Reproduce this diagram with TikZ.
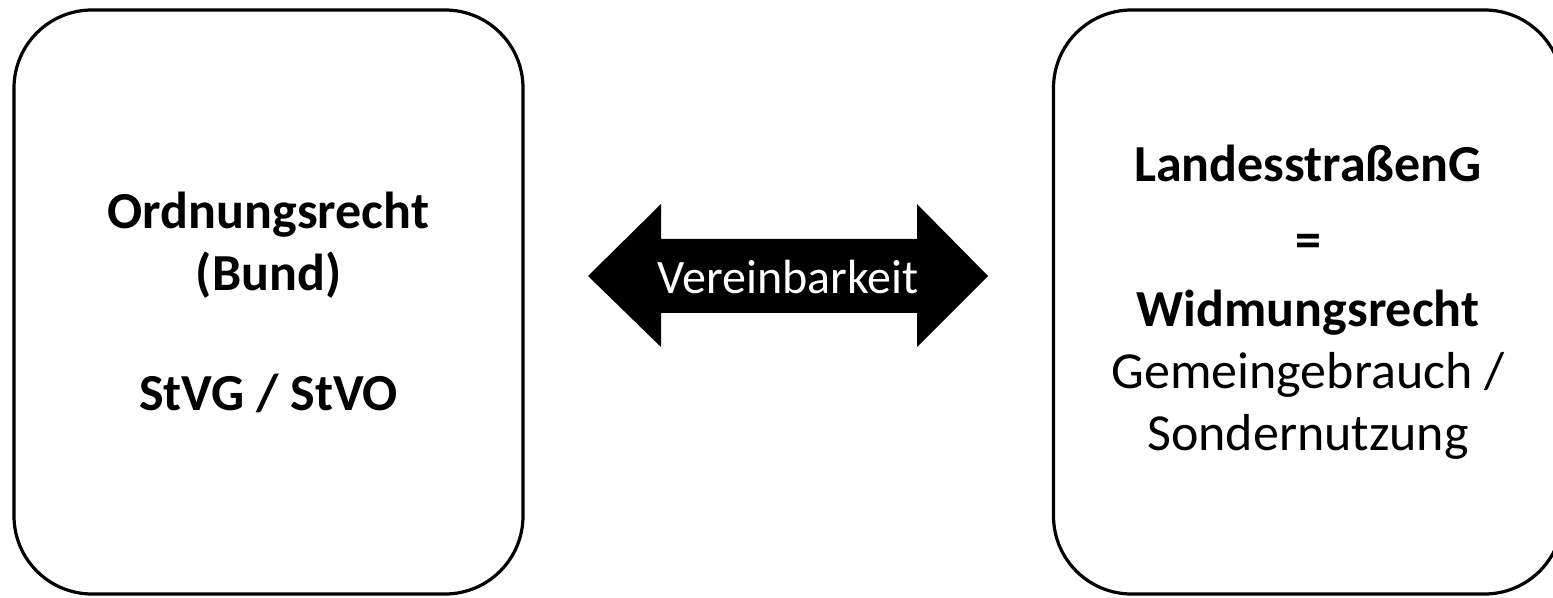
\documentclass[tikz,border=0pt]{standalone}
\usepackage{fontspec}
\setmainfont{Carlito}
\begin{document}
\begin{tikzpicture}[x=0.5pt,y=-0.5pt,
  box/.style={draw=black, line width=1.6pt, rounded corners=39pt,
    minimum width=254.5pt, minimum height=292pt, inner sep=0pt,
    align=center, font=\fontsize{26}{31}\selectfont},
  arrowfill/.style={fill=black},
  arrowtext/.style={text=white, inner sep=0pt, font=\fontsize{24}{29}\selectfont}]
\useasboundingbox (0,0) rectangle (1553,598);
\clip (0,0) rectangle (1553,598);
\node[box] (left) at (268.5,302) {\textbf{Ordnungsrecht}\\ \textbf{(Bund)}\\[29pt] \textbf{StVG / StVO}};
\node[box] (right) at (1308,302) {\textbf{LandesstraßenG}\\[7pt] \textbf{=}\\[3.5pt] \textbf{Widmungsrecht}\\ Gemeingebrauch /\\ Sondernutzung};
\fill[arrowfill] (588,276) -- (661,204) -- (661,239) -- (917,239) -- (917,204) -- (988,276)
  -- (917,347) -- (917,313) -- (661,313) -- (661,347) -- cycle;
\node[arrowtext] (arr) at (788,277) {Vereinbarkeit};
\end{tikzpicture}
\end{document}
